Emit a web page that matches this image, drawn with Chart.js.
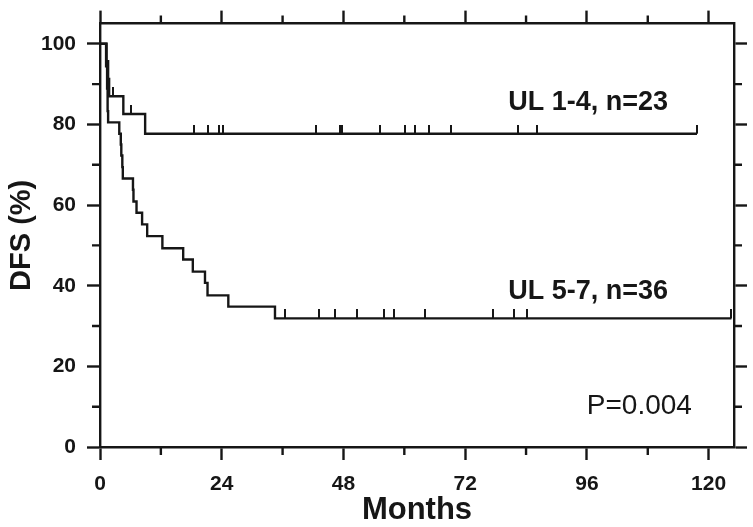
<!DOCTYPE html>
<html>
<head>
<meta charset="utf-8">
<script src="https://cdn.jsdelivr.net/npm/chart.js@4.4.1/dist/chart.umd.min.js"></script>
<style>
body{margin:0;background:#fff;}
#wrap{width:753px;height:527px;}
</style>
</head>
<body>
<div id="wrap"><canvas id="dfsChart" width="753" height="527"></canvas></div>
<script>

/* =====================================
   DATA
===================================== */

const ul14Months = [0, 1.3, 1.6, 1.8, 4.6, 8.9, 117.7];
const ul14Dfs    = [100, 95.7, 91.3, 87.0, 82.6, 77.7, 77.7];
const ul14Censored = [2.6, 6.1, 18.5, 21.2, 23.5, 24.2, 42.6, 47.3, 47.7, 55.2, 60.2, 62.1, 64.8, 69.2, 82.5, 86.1, 117.7];

const ul57Months = [0, 1.2, 1.4, 1.5, 1.6, 3.8, 4.1, 4.2, 4.4, 4.5, 6.5, 6.6, 7.2, 8.3, 9.3, 12.3, 16.4, 18.3, 20.7, 21.2, 25.3, 34.5, 124.5];
const ul57Dfs    = [100, 94.4, 88.9, 83.3, 80.5, 77.7, 75.0, 72.3, 69.4, 66.6, 63.8, 60.9, 58.1, 55.2, 52.3, 49.3, 46.5, 43.5, 40.7, 37.6, 34.8, 31.9, 31.9];
const ul57Censored = [36.4, 43.1, 46.4, 50.6, 55.9, 58.0, 64.0, 77.5, 81.7, 84.2, 124.5];

const xMajorTicks = [0, 24, 48, 72, 96, 120];
const xMinorTicks = [12, 36, 60, 84, 108];
const yMajorTicks = [0, 20, 40, 60, 80, 100];
const yMinorTicks = [10, 30, 50, 70, 90];

const curveLabels = ["UL 1-4, n=23", "UL 5-7, n=36"];
const pValueText = "P=0.004";

/* =====================================
   STYLE
===================================== */

const INK = "#161616";
const FONT = "'Liberation Sans', Arial, Helvetica, sans-serif";
const LINE = 2.4;

document.addEventListener("DOMContentLoaded", () => {

    initializeSurvivalChart();

});

/* =====================================
   HELPERS
===================================== */

function stepPoints(months, values){

    return months.map((m, i) => ({ x: m, y: values[i] }));

}

function dfsAt(months, values, t){

    let v = values[0];

    months.forEach((m, i) => {
        if(m <= t) v = values[i];
    });

    return v;

}

function censorPoints(censored, months, values){

    return censored.map(t => ({ x: t, y: dfsAt(months, values, t) }));

}

// vertical tick that sits on top of the curve
function censorMark(){

    const c = document.createElement("canvas");
    c.width = 2;
    c.height = 18;

    const g = c.getContext("2d");
    g.fillStyle = INK;
    g.fillRect(0, 0, 2, 9);

    return c;

}

/* =====================================
   PLUGINS
===================================== */

const minorTicks = {

    id: "minorTicks",

    afterDraw(chart){

        const { ctx, chartArea: a, scales } = chart;

        ctx.save();
        ctx.strokeStyle = INK;
        ctx.lineWidth = LINE;
        ctx.beginPath();

        xMinorTicks.forEach(v => {
            const px = scales.x.getPixelForValue(v);
            ctx.moveTo(px, a.bottom);
            ctx.lineTo(px, a.bottom + 8);
            ctx.moveTo(px, a.top);
            ctx.lineTo(px, a.top - 8);
        });

        yMinorTicks.forEach(v => {
            const py = scales.y.getPixelForValue(v);
            ctx.moveTo(a.left, py);
            ctx.lineTo(a.left - 8, py);
            ctx.moveTo(a.right, py);
            ctx.lineTo(a.right + 8, py);
        });

        ctx.stroke();
        ctx.restore();

    }

};

const curveText = {

    id: "curveText",

    afterDatasetsDraw(chart){

        const { ctx, scales } = chart;
        const x = scales.x, y = scales.y;

        ctx.save();
        ctx.fillStyle = INK;
        ctx.textAlign = "right";
        ctx.textBaseline = "middle";

        ctx.font = "bold 27px " + FONT;
        ctx.fillText(curveLabels[0], x.getPixelForValue(112), y.getPixelForValue(85.5));
        ctx.fillText(curveLabels[1], x.getPixelForValue(112), y.getPixelForValue(38.5));

        ctx.font = "28px " + FONT;
        ctx.fillText(pValueText, x.getPixelForValue(116.7), y.getPixelForValue(10));

        ctx.restore();

    }

};

/* =====================================
   SURVIVAL CHART
===================================== */

function frameScale(position, axis, ticks, size, extra){

    const base = {

        type: "linear",
        position: position,
        min: 0,
        max: axis === "x" ? 125 : 105,

        afterBuildTicks: s => {
            s.ticks = ticks.map(v => ({ value: v }));
        },

        afterFit: s => {
            if(axis === "x") s.height = size;
            else s.width = size;
        },

        border: { display: true, color: INK, width: LINE },

        grid: {
            display: true,
            drawOnChartArea: false,
            drawTicks: true,
            tickLength: 13,
            tickWidth: LINE,
            tickColor: INK
        },

        ticks: { display: false }

    };

    return Object.assign(base, extra || {});

}

function initializeSurvivalChart(){

    const ctx = document.getElementById("dfsChart");

    if(!ctx) return;

    const mark = censorMark();

    new Chart(ctx, {

        type: "line",

        data: {

            datasets: [

                {
                    label: curveLabels[0],
                    data: stepPoints(ul14Months, ul14Dfs),
                    stepped: "before",
                    borderColor: INK,
                    borderWidth: LINE,
                    pointRadius: 0,
                    fill: false
                },

                {
                    label: curveLabels[1],
                    data: stepPoints(ul57Months, ul57Dfs),
                    stepped: "before",
                    borderColor: INK,
                    borderWidth: LINE,
                    pointRadius: 0,
                    fill: false
                },

                {
                    type: "scatter",
                    data: censorPoints(ul14Censored, ul14Months, ul14Dfs),
                    pointStyle: mark,
                    pointRadius: 5
                },

                {
                    type: "scatter",
                    data: censorPoints(ul57Censored, ul57Months, ul57Dfs),
                    pointStyle: mark,
                    pointRadius: 5
                }

            ]

        },

        options: {

            responsive: false,
            devicePixelRatio: 1,
            animation: false,

            layout: { padding: 0 },

            plugins: {
                legend: { display: false },
                tooltip: { enabled: false }
            },

            scales: {

                x: frameScale("bottom", "x", xMajorTicks, 80, {
                    ticks: {
                        display: true,
                        padding: 12,
                        color: INK,
                        font: { family: FONT, size: 21, weight: "bold" }
                    },
                    title: {
                        display: true,
                        text: "Months",
                        color: INK,
                        padding: { top: 0, bottom: -2 },
                        font: { family: FONT, size: 31, weight: "bold" }
                    }
                }),

                y: frameScale("left", "y", yMajorTicks, 100, {
                    ticks: {
                        display: true,
                        padding: 11,
                        color: INK,
                        font: { family: FONT, size: 21, weight: "bold" }
                    },
                    title: {
                        display: true,
                        text: "DFS (%)",
                        color: INK,
                        padding: { top: 5, bottom: 0 },
                        font: { family: FONT, size: 29, weight: "bold" }
                    }
                }),

                x2: frameScale("top", "x", xMajorTicks, 18),

                y2: frameScale("right", "y", yMajorTicks, 19)

            }

        },

        plugins: [minorTicks, curveText]

    });

}

</script>
</body>
</html>
